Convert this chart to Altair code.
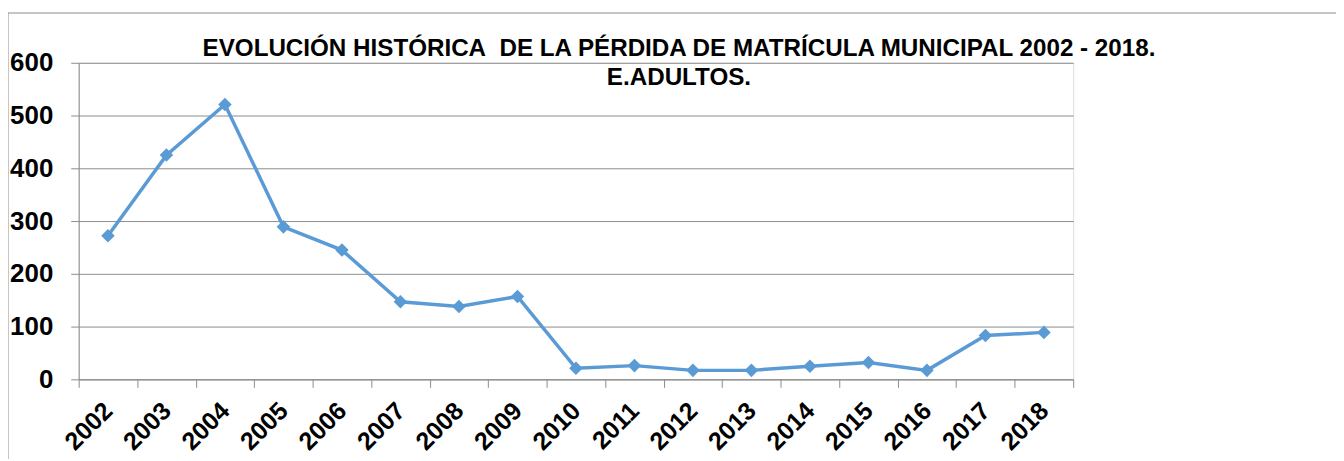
import altair as alt
import pandas as pd

years = ["2002", "2003", "2004", "2005", "2006", "2007", "2008", "2009", "2010",
         "2011", "2012", "2013", "2014", "2015", "2016", "2017", "2018"]
values = [272, 425, 521, 289, 245, 147, 138, 157, 21, 26, 17, 17, 25, 32, 17, 83, 89]
title_lines = ["EVOLUCIÓN HISTÓRICA\u00a0 DE LA PÉRDIDA DE MATRÍCULA MUNICIPAL 2002 - 2018.",
               "E.ADULTOS."]

df = pd.DataFrame({"year": years, "value": values})

FONT = "Liberation Sans"
GRID = "#8c8c8c"
BLUE = "#5B9BD5"

x_enc = alt.X("year:N", sort=years, title=None,
              scale=alt.Scale(paddingInner=0, paddingOuter=0),
              axis=alt.Axis(labelAngle=-45, labelAlign="right", labelBaseline="middle",
                            labelFont=FONT, labelFontSize=25, labelFontWeight="bold",
                            labelColor="black", labelPadding=19,
                            tickBand="extent", tickSize=8, tickColor=GRID,
                            domainColor=GRID, grid=False))
y_enc = alt.Y("value:Q", title=None,
              scale=alt.Scale(domain=[0, 600], nice=False),
              axis=alt.Axis(values=[0, 100, 200, 300, 400, 500, 600],
                            labelFont=FONT, labelFontSize=26, labelFontWeight="bold",
                            labelColor="black", labelPadding=18,
                            tickSize=8, tickColor=GRID, domainColor=GRID,
                            gridColor=GRID, gridWidth=1, gridOpacity=1))

border = alt.Chart(pd.DataFrame({"a": [0]})).mark_rect(
    fill=None, fillOpacity=0, stroke="#8c8c8c", strokeWidth=1, clip=False
).encode(x=alt.value(-71), x2=alt.value(1400), y=alt.value(-50), y2=alt.value(500))

title1 = alt.Chart(pd.DataFrame({"t": [title_lines[0]]})).mark_text(
    font=FONT, fontSize=24.3, fontWeight="bold", color="black",
    align="center", baseline="alphabetic"
).encode(text="t:N", x=alt.value(603), y=alt.value(-7))
title2 = alt.Chart(pd.DataFrame({"t": [title_lines[1]]})).mark_text(
    font=FONT, fontSize=24.3, fontWeight="bold", color="black",
    align="center", baseline="alphabetic"
).encode(text="t:N", x=alt.value(603), y=alt.value(22))

line = alt.Chart(df).mark_line(color=BLUE, strokeWidth=3.5).encode(x=x_enc, y=y_enc)
pts = alt.Chart(df).mark_point(shape="diamond", filled=True, color=BLUE, size=185,
                               opacity=1).encode(x=x_enc, y=y_enc)

chart = alt.layer(border, line, pts, title1, title2).properties(
    width=999, height=318,
    autosize=alt.AutoSizeParams(type="none"),
    padding={"left": 71, "top": 54, "right": 264, "bottom": 79},
).configure_view(stroke=None).configure(background="white")

chart.save("out.html", embed_options={"renderer": "svg", "actions": False})
